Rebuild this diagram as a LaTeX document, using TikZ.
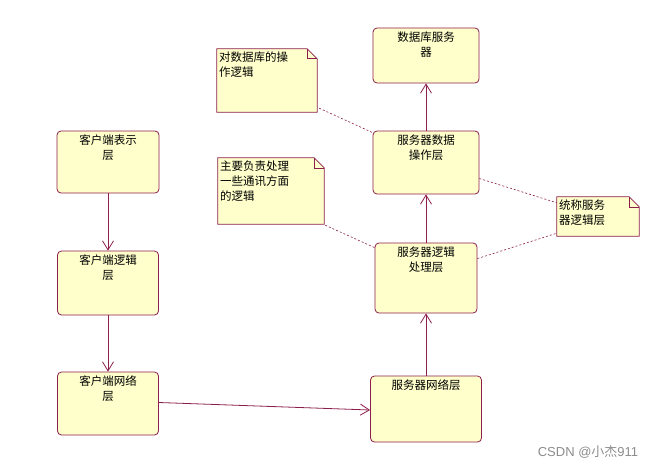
\documentclass[tikz,border=0pt]{standalone}
\usepackage{fontspec}
\newfontfamily\cjk{Noto Sans CJK SC}
\setsansfont{Liberation Sans}
\usetikzlibrary{arrows.meta}
\definecolor{edge}{HTML}{8B1E4B}
\definecolor{paper}{HTML}{FFFFCC}
\tikzset{
  box/.style={draw=edge, fill=paper, rounded corners=4pt, line width=0.8pt, inner sep=0pt},
  boxtext/.style={anchor=north, align=center, font=\cjk\fontsize{11.5}{15}\selectfont, inner sep=0pt},
  notetext/.style={anchor=north west, align=left, font=\cjk\fontsize{11.5}{15}\selectfont, inner sep=0pt},
  notearea/.style={inner sep=0pt},
  flow/.style={draw=edge, line width=0.8pt, -{Straight Barb[length=9pt,width=11pt,line width=0.8pt]}},
  link/.style={draw=edge, line width=0.6pt, dash pattern=on 2pt off 2pt},
  noteline/.style={draw=edge, fill=paper, line width=0.8pt},
}
\begin{document}
\begin{tikzpicture}[x=1pt, y=-1pt]
\useasboundingbox (0,0) rectangle (660,468);
% boxes
\node[box, minimum width=106pt, minimum height=55pt] (db) at (426,55.5) {};
\node[box, minimum width=106pt, minimum height=63pt] (op) at (426,162.5) {};
\node[box, minimum width=102pt, minimum height=70pt] (lg) at (426,278) {};
\node[box, minimum width=111pt, minimum height=66pt] (nw) at (426,409) {};
\node[box, minimum width=102pt, minimum height=62pt] (c1) at (108,162) {};
\node[box, minimum width=101pt, minimum height=64pt] (c2) at (108,283) {};
\node[box, minimum width=101pt, minimum height=63pt] (c3) at (108,403.5) {};
\node[boxtext] (dbt) at ([yshift=-4pt]db.north) {数据库服务\\器};
\node[boxtext] (opt) at ([yshift=-4pt]op.north) {服务器数据\\操作层};
\node[boxtext] (lgt) at ([yshift=-4pt]lg.north) {服务器逻辑\\处理层};
\node[boxtext] (nwt) at ([yshift=-4pt]nw.north) {服务器网络层};
\node[boxtext] (c1t) at ([yshift=-4pt]c1.north) {客户端表示\\层};
\node[boxtext] (c2t) at ([yshift=-4pt]c2.north) {客户端逻辑\\层};
\node[boxtext] (c3t) at ([yshift=-4pt]c3.north) {客户端网络\\层};
% notes
\node[notearea, minimum width=100pt, minimum height=63pt] (n1) at (267,80.5) {};
\node[notearea, minimum width=106pt, minimum height=66pt] (n2) at (271,191) {};
\node[notearea, minimum width=82pt, minimum height=39pt] (n3) at (598,216.5) {};
\foreach \n in {n1,n2,n3}{
  \path[noteline] (\n.north west) -- ([xshift=-10pt]\n.north east) -- ([yshift=-10pt]\n.north east) -- (\n.south east) -- (\n.south west) -- cycle;
  \draw[edge, line width=0.6pt] ([xshift=-10pt]\n.north east) -- ([xshift=-10pt,yshift=-10pt]\n.north east) -- ([yshift=-10pt]\n.north east);
}
\node[notetext] (n1t) at ([xshift=2pt,yshift=-3pt]n1.north west) {对数据库的操\\作逻辑};
\node[notetext] (n2t) at ([xshift=2pt,yshift=-3pt]n2.north west) {主要负责处理\\一些通讯方面\\的逻辑};
\node[notetext] (n3t) at ([xshift=2pt,yshift=-3pt]n3.north west) {统称服务\\器逻辑层};
% flows
\draw[flow] (c1.south) -- (c2.north);
\draw[flow] (c2.south) -- (c3.north);
\draw[flow] ([yshift=1pt]c3.east) -- ([yshift=-1pt]nw.west);
\draw[flow] (nw.north) -- (lg.south);
\draw[flow] (lg.north) -- (op.south);
\draw[flow] (op.north) -- (db.south);
% dashed links
\draw[link] ([xshift=2pt,yshift=4pt]n1.south east) -- ([yshift=-2pt]op.north west);
\draw[link] ([xshift=1pt,yshift=-1pt]n2.south east) -- ([yshift=-5pt]lg.north west);
\draw[link] ([yshift=-16pt]op.east) -- ([yshift=-6pt]n3.north west);
\draw[link] ([yshift=-16pt]lg.north east) -- ([yshift=3pt]n3.south west);
% watermark
\node[inner sep=0pt, text=black!45, font=\fontsize{13}{15}\selectfont] (wm) at (588,452) {\sffamily CSDN @{\cjk 小杰}911};
\end{tikzpicture}
\end{document}
